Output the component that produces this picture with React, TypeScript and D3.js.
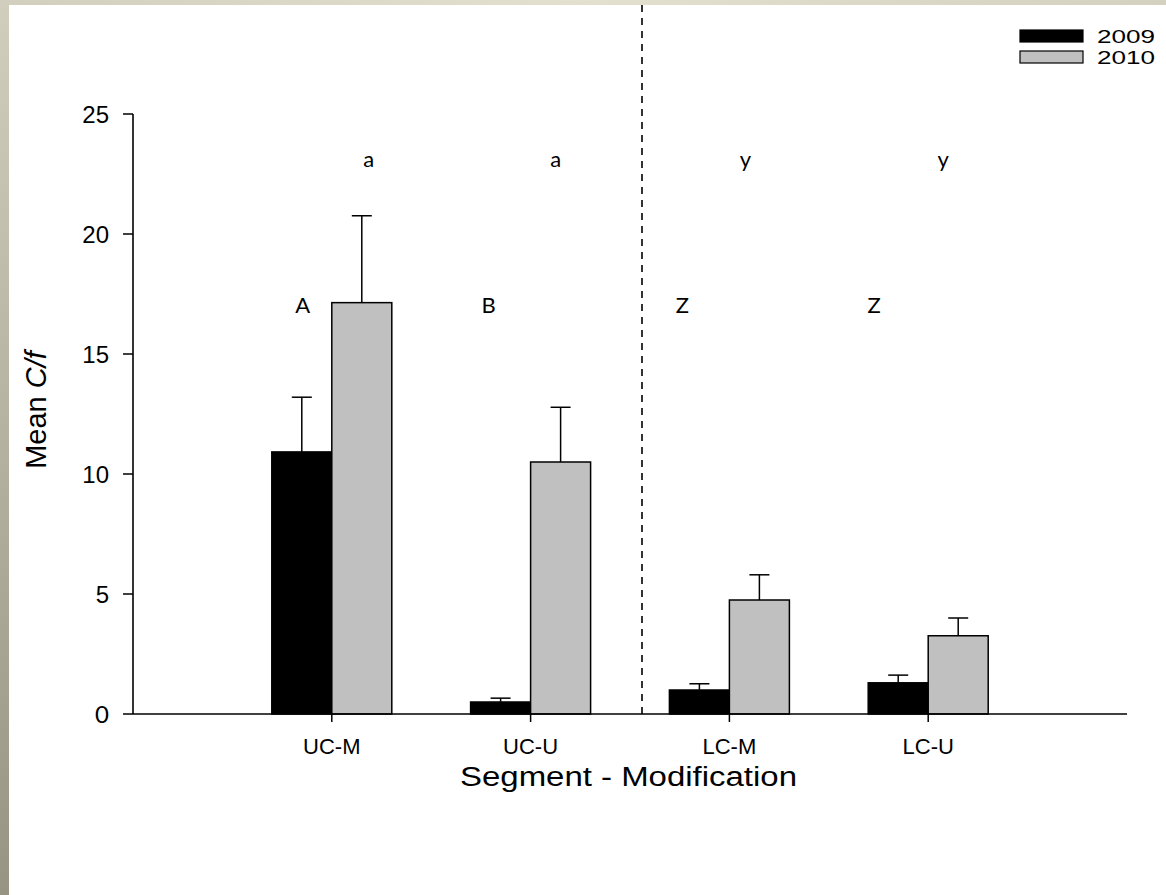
import React from "react";
import * as d3 from "d3";

// Segment-modification groups and yearly series
const categories = ["UC-M", "UC-U", "LC-M", "LC-U"];
const years = ["2009", "2010"];
const means2009 = [10.92, 0.5, 1.0, 1.3];
const means2010 = [17.14, 10.5, 4.75, 3.26];
const errors2009 = [2.28, 0.16, 0.26, 0.32];
const errors2010 = [3.62, 2.28, 1.05, 0.74];
const lettersUpper = ["a", "a", "y", "y"];
const lettersLower = ["A", "B", "Z", "Z"];
const yTicks = [0, 5, 10, 15, 20, 25];

// horizontal nudges of the significance letters from each group centre
const upperOffsets = [37, 25, 16, 15];
const lowerOffsets = [-29, -42, -47, -54];

const W = 1166;
const H = 895;
const left = 133;
const right = 1127;
const top = 114;
const bottom = 714;

const yearColor: Record<string, string> = { "2009": "#000000", "2010": "#c0c0c0" };
const SANS = "'Liberation Sans', Arial, sans-serif";
const CAL = "Lato, Carlito, Calibri, sans-serif";

export default function App() {
  const x = d3.scalePoint<string>().domain(categories).range([left, right]).padding(1);
  const sub = d3.scaleBand<string>().domain(years).range([-60, 60]).padding(0);
  const y = d3.scaleLinear().domain([0, 25]).range([bottom, top]);

  const series = [
    { year: "2009", means: means2009, errs: errors2009 },
    { year: "2010", means: means2010, errs: errors2010 },
  ];

  const divider = (x(categories[1])! + x(categories[2])!) / 2 + 12;

  return (
    <svg
      width={W}
      height={H}
      style={{ position: "absolute", left: 0, top: 0, display: "block" }}
    >
      <defs>
        <linearGradient id="leftStrip" x1="0" y1="0" x2="0" y2="1">
          <stop offset="0" stopColor="#d2cebe" />
          <stop offset="1" stopColor="#989484" />
        </linearGradient>
        <linearGradient id="topStrip" x1="0" y1="0" x2="1" y2="0">
          <stop offset="0" stopColor="#d3cfbf" />
          <stop offset="0.5" stopColor="#e4e0cf" />
          <stop offset="1" stopColor="#d5d1c1" />
        </linearGradient>
      </defs>
      <rect x={0} y={0} width={W} height={H} fill="#ffffff" />
      <rect x={0} y={0} width={W} height={5} fill="url(#topStrip)" />
      <rect x={0} y={0} width={9} height={H} fill="url(#leftStrip)" />

      {/* group divider */}
      <line
        x1={divider}
        x2={divider}
        y1={5}
        y2={bottom}
        stroke="#000"
        strokeWidth={1.6}
        strokeDasharray="7 6"
      />

      {/* bars with upper error bars */}
      {series.map((s) =>
        categories.map((c, i) => {
          const x0 = x(c)! + sub(s.year)!;
          const bw = sub.bandwidth();
          const yTop = y(s.means[i]);
          const yErr = y(s.means[i] + s.errs[i]);
          const cx = x0 + bw / 2;
          return (
            <g key={s.year + c}>
              <line x1={cx} x2={cx} y1={yTop} y2={yErr} stroke="#000" strokeWidth={1.5} />
              <line x1={cx - 10} x2={cx + 10} y1={yErr} y2={yErr} stroke="#000" strokeWidth={1.5} />
              <rect
                x={x0}
                y={yTop}
                width={bw}
                height={bottom - yTop}
                fill={yearColor[s.year]}
                stroke="#000"
                strokeWidth={1.5}
              />
            </g>
          );
        })
      )}

      {/* y axis */}
      <line x1={left} x2={left} y1={top} y2={bottom} stroke="#000" strokeWidth={1.6} />
      {yTicks.map((t) => (
        <g key={t}>
          <line x1={left - 10} x2={left} y1={y(t)} y2={y(t)} stroke="#000" strokeWidth={1.5} />
          <text
            x={left - 24}
            y={y(t)}
            dy="0.36em"
            textAnchor="end"
            fontFamily={t === 0 ? CAL : SANS}
            fontSize={24}
            fill="#000"
          >
            {t}
          </text>
        </g>
      ))}

      {/* x axis */}
      <line x1={left} x2={right} y1={bottom} y2={bottom} stroke="#000" strokeWidth={1.6} />
      {categories.map((c) => (
        <g key={c}>
          <line x1={x(c)!} x2={x(c)!} y1={bottom} y2={bottom + 8} stroke="#000" strokeWidth={1.5} />
          <text x={x(c)!} y={754} textAnchor="middle" fontFamily={SANS} fontSize={22} fill="#000">
            {c}
          </text>
        </g>
      ))}

      {/* significance letters */}
      {categories.map((c, i) => (
        <g key={"l" + c}>
          <text
            x={x(c)! + upperOffsets[i]}
            y={167}
            textAnchor="middle"
            fontFamily={CAL}
            fontSize={22}
            fill="#000"
          >
            {lettersUpper[i]}
          </text>
          <text
            x={x(c)! + lowerOffsets[i]}
            y={313}
            textAnchor="middle"
            fontFamily={CAL}
            fontSize={22}
            fill="#000"
          >
            {lettersLower[i]}
          </text>
        </g>
      ))}

      {/* axis titles */}
      <text
        x={460}
        y={786}
        fontFamily={SANS}
        fontSize={27}
        textLength={337}
        lengthAdjust="spacingAndGlyphs"
        fill="#000"
      >
        Segment - Modification
      </text>
      <text
        transform={`translate(46, 410) rotate(-90)`}
        textAnchor="middle"
        fontFamily={SANS}
        fontSize={29}
        fill="#000"
      >
        Mean <tspan fontStyle="italic">C/f</tspan>
      </text>

      {/* legend */}
      {years.map((yr, i) => (
        <g key={"leg" + yr} transform={`translate(1020, ${30 + i * 21})`}>
          <rect
            x={0}
            y={0}
            width={63}
            height={12}
            fill={yearColor[yr]}
            stroke="#000"
            strokeWidth={1.2}
          />
          <text
            x={77}
            y={6}
            dy="0.36em"
            fontFamily={SANS}
            fontSize={19}
            textLength={58}
            lengthAdjust="spacingAndGlyphs"
            fill="#000"
          >
            {yr}
          </text>
        </g>
      ))}
    </svg>
  );
}
